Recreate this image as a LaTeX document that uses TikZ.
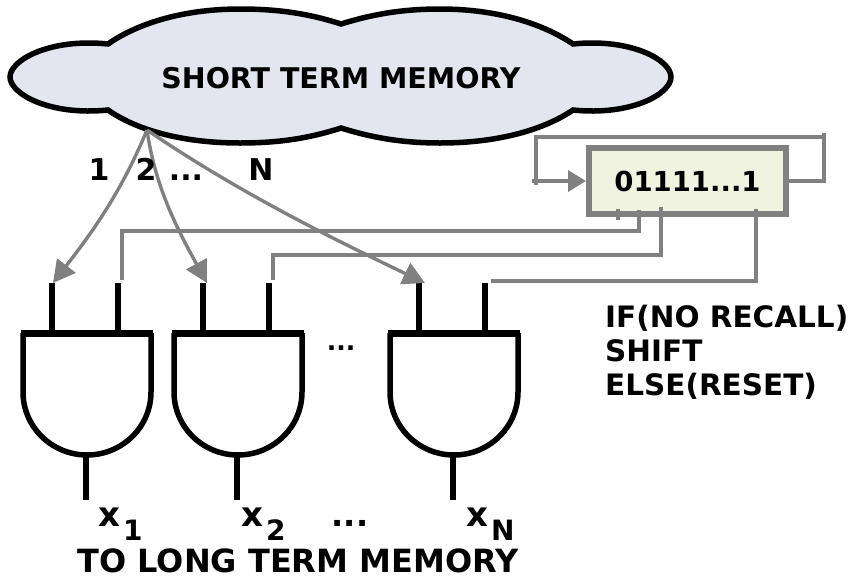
\documentclass[tikz,border=0pt]{standalone}
\usepackage{fontspec}
\setmainfont{DejaVu Sans}[BoldFont={DejaVu Sans Bold}]
\usetikzlibrary{arrows.meta}
\definecolor{wiregray}{HTML}{808080}
\definecolor{cloudfill}{HTML}{E3E5EF}
\definecolor{regfill}{HTML}{EFF3DF}
\tikzset{
	wire/.style={wiregray, line width=3.4pt},
	pin/.style={black, line width=6.5pt},
	lbl/.style={inner sep=0pt, font=\fontsize{#1}{#1}\selectfont\bfseries},
	bighead/.style={-{Triangle[length=22pt, width=23pt]}}
}
\newcommand{\subtxt}[1]{\hspace{3pt}\raisebox{-14pt}{\fontsize{28}{28}\selectfont #1}}

\begin{document}
\begin{tikzpicture}[x=1pt, y=-1pt]
	\useasboundingbox (0,0) rectangle (849,579);
	
	% Nuage de la mémoire courte
	\draw[fill=cloudfill, line width=5.5pt]
		(10,77) .. controls (10,60) and (50,38) .. (108,44)
		.. controls (135,25) and (180,9) .. (240,9)
		.. controls (280,9) and (310,14) .. (341,24)
		.. controls (370,15) and (400,9) .. (440,9)
		.. controls (500,9) and (545,25) .. (573,44)
		.. controls (631,38) and (671,60) .. (671,77)
		.. controls (671,94) and (631,116) .. (573,110)
		.. controls (545,129) and (500,143) .. (440,143)
		.. controls (400,143) and (370,137) .. (341,128)
		.. controls (310,138) and (280,143) .. (240,143)
		.. controls (180,143) and (135,129) .. (108,110)
		.. controls (50,116) and (10,94) .. (10,77) -- cycle;
	\node[lbl=28.5] (stm) at (341,78) {SHORT TERM MEMORY};
	\coordinate (tap) at (147,130);
	
	% Registre
	\node[draw=wiregray, fill=regfill, line width=6pt, minimum width=197pt, minimum height=66pt, lbl=27.5] (reg) at (687.5,181) {01111...1};
	
	% Portes ET
	\foreach \name/\x in {one/87, two/238, three/454}{
		\draw[line width=5.5pt] (\x-64,333) -- (\x-64,392) arc[start angle=180, end angle=0, x radius=64, y radius=63] -- (\x+64,333);
		\draw[line width=7pt] (\x-66,333) -- (\x+66,333);
		\coordinate (\name-a) at (\x-35,283);
		\coordinate (\name-b) at (\x+31,283);
		\coordinate (\name-c) at (\x-35,333);
		\coordinate (\name-d) at (\x+31,333);
		\coordinate (\name-e) at (\x-1,455);
		\coordinate (\name-f) at (\x-1,500);
		\draw[pin] (\name-a) -- (\name-c);
		\draw[pin] (\name-b) -- (\name-d);
		\draw[pin] (\name-e) -- (\name-f);
	}
	
	% Flèches partant du nuage
	\draw[wire, bighead] (tap) .. controls (120,195) and (90,235) .. (53,283);
	\draw[wire, bighead] (tap) .. controls (155,185) and (175,225) .. (207,283);
	\draw[wire, bighead] (tap) .. controls (235,190) and (325,235) .. (425,283);
	
	% Boucle du registre
	\coordinate (loopa) at (824,181);
	\coordinate (loopb) at (824,133);
	\coordinate (loopc) at (824,137);
	\coordinate (loopd) at (536,137);
	\coordinate (loope) at (536,185);
	\coordinate (loopf) at (532,181);
	\draw[wire] (reg.east) -- (loopa) -- (loopb);
	\draw[wire] (loopc) -- (loopd) -- (loope);
	\draw[wire, -{Triangle[length=18pt, width=21pt]}] (loopf) -- (reg.west);
	
	% Sorties du registre vers les portes
	\coordinate (taba) at (618,209);
	\coordinate (tabb) at (618,220);
	\coordinate (tabc) at (639,210);
	\coordinate (tabd) at (661,207);
	\coordinate (tabe) at (756,209);
	\coordinate (tabf) at (491,281);
	\coordinate (onewire) at (122,280);
	\coordinate (twowire) at (273,280);
	\draw[wire] (taba) -- (tabb);
	\draw[wire] (tabc) |- (onewire |- 0,231) -- (onewire);
	\draw[wire] (tabd) |- (twowire |- 0,255) -- (twowire);
	\draw[wire] (tabe) |- (tabf);
	
	% Textes
	\node[lbl=30, anchor=base] (ida) at (99,180) {1};
	\node[lbl=30, anchor=base] (idb) at (146,180) {2};
	\node[lbl=30, anchor=base] (idc) at (186,180) {...};
	\node[lbl=30, anchor=base] (idn) at (261,180) {N};
	\node[lbl=25, anchor=base] (dotsa) at (341,350) {...};
	\node[lbl=32, anchor=base] (dotsb) at (350,526) {...};
	\node[lbl=34, anchor=base west] (xa) at (98,526) {x\subtxt{1}};
	\node[lbl=34, anchor=base west] (xb) at (241,526) {x\subtxt{2}};
	\node[lbl=34, anchor=base west] (xn) at (466,526) {x\subtxt{N}};
	\node[lbl=32, anchor=base] (ltm) at (298,572) {TO LONG TERM MEMORY};
	\node[lbl=29.5, anchor=base west] (ifa) at (605,327) {IF(NO RECALL)};
	\node[lbl=29.5, anchor=base west] (ifb) at (605,361) {SHIFT};
	\node[lbl=29.5, anchor=base west] (ifc) at (605,395) {ELSE(RESET)};
	
\end{tikzpicture}
\end{document}
